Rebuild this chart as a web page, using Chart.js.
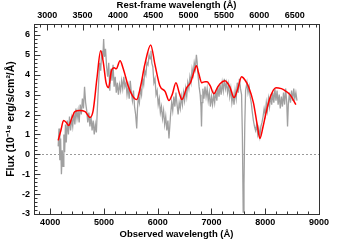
<!DOCTYPE html>
<html><head><meta charset="utf-8">
<script src="https://cdn.jsdelivr.net/npm/chart.js@4.4.1/dist/chart.umd.min.js"></script>
<style>html,body{margin:0;padding:0;background:#fff;}#c{display:block;}</style>
</head><body>
<canvas id="c" width="355" height="240"></canvas>
<script>
// ---- data ----
const redshift = 0.315;
const obsTicks = [4000, 5000, 6000, 7000, 8000, 9000];
const restTicks = [3000, 3500, 4000, 4500, 5000, 5500, 6000, 6500];
const fluxTicks = [-3, -2, -1, 0, 1, 2, 3, 4, 5, 6];

const spectrumWave = [4150,4165,4180,4195,4210,4225,4240,4255,4270,4285,4300,4320,4340,4360,4380,4400,4420,4440,4460,4480,4500,4520,4540,4560,4580,4600,4620,4640,4660,4680,4700,4720,4740,4760,4780,4800,4820,4840,4860,4880,4900,4920,4940,4960,4980,4995,5010,5030,5050,5070,5090,5110,5130,5150,5170,5190,5210,5230,5250,5270,5290,5310,5330,5350,5370,5390,5410,5430,5450,5470,5490,5510,5530,5550,5570,5590,5610,5625,5640,5660,5680,5700,5720,5740,5760,5780,5800,5820,5840,5860,5875,5890,5910,5930,5950,5970,5990,6010,6030,6050,6070,6090,6110,6130,6150,6170,6190,6210,6225,6240,6260,6280,6300,6320,6340,6360,6380,6400,6420,6440,6460,6480,6500,6520,6540,6560,6580,6600,6620,6640,6660,6680,6700,6720,6735,6750,6770,6790,6805,6815,6825,6840,6860,6880,6900,6920,6940,6960,6980,7000,7020,7040,7060,7080,7100,7120,7140,7160,7180,7200,7220,7240,7260,7280,7300,7320,7340,7360,7380,7400,7420,7440,7460,7480,7500,7520,7540,7560,7575,7590,7605,7620,7635,7660,7680,7700,7720,7740,7760,7780,7800,7820,7840,7860,7880,7900,7920,7940,7960,7980,8000,8020,8040,8060,8080,8100,8120,8140,8160,8180,8200,8220,8240,8260,8280,8300,8320,8340,8360,8380,8400,8415,8430,8450,8470,8490,8510,8530,8550,8570,8590];
const spectrumFlux = [0.4,1.3,-0.3,0.8,-1.0,0.2,-0.6,1.0,0.1,1.5,0.6,1.7,1.0,1.9,1.2,1.8,1.4,2.1,1.5,2.3,1.8,2.2,1.6,2.5,2.0,2.8,2.3,3.4,2.6,2.2,1.6,2.1,1.4,1.9,1.2,1.7,1.0,1.5,1.1,2.4,3.5,4.6,4.2,5.2,4.8,5.8,4.9,5.3,4.4,3.9,4.6,3.2,4.3,3.7,4.5,3.4,3.9,3.1,3.6,3.0,3.5,3.2,3.7,3.3,3.9,3.4,3.6,3.0,3.4,2.8,3.7,3.1,2.7,3.2,2.4,2.0,1.3,2.3,2.9,2.6,3.3,3.0,3.8,3.5,4.2,4.0,4.6,4.5,5.0,4.8,5.2,4.6,4.4,3.6,3.8,3.0,3.2,2.5,2.8,2.1,2.4,1.8,2.2,1.5,1.9,1.2,1.7,0.8,1.4,2.0,2.6,2.2,2.9,2.4,3.1,2.5,2.0,2.6,2.3,2.9,2.5,3.1,2.7,3.3,2.9,3.6,3.3,3.9,3.6,4.3,4.0,4.6,4.3,5.0,4.6,4.0,3.4,3.0,2.4,1.4,2.6,3.3,2.8,3.4,2.9,3.3,2.7,3.1,2.4,2.9,2.5,3.0,2.6,3.2,2.7,3.4,2.9,3.5,3.0,3.6,3.2,3.8,3.3,3.6,3.1,3.5,2.9,3.3,2.6,3.0,2.5,3.2,2.8,3.6,3.1,3.8,3.3,3.0,1.0,-2.9,-1.5,1.5,3.2,3.6,3.1,3.4,2.9,2.6,2.1,1.7,1.4,1.2,1.5,1.0,1.3,0.9,1.4,1.6,1.9,2.3,2.0,2.6,2.2,2.8,2.4,3.0,2.5,3.1,2.6,3.3,2.7,3.2,2.5,3.0,2.3,2.9,2.4,3.1,2.5,3.3,2.6,1.4,2.5,3.1,2.6,3.2,2.7,3.3,2.8,3.1,2.7];

const modelWave = [4150,4200,4250,4300,4345,4400,4460,4550,4650,4740,4800,4870,4940,4990,5040,5085,5140,5190,5230,5300,5360,5450,5530,5610,5680,5760,5870,5950,6040,6140,6210,6270,6340,6400,6450,6540,6610,6670,6720,6760,6820,6880,6920,6975,7045,7110,7160,7250,7340,7420,7490,7560,7620,7690,7780,7850,7900,7960,8000,8090,8200,8300,8340,8460,8570];
const modelFlux = [0.7,1.2,1.7,1.6,1.45,1.8,2.15,2.2,2.15,1.85,2.2,3.8,5.2,4.6,3.6,3.35,4.2,4.35,4.3,4.7,4.3,3.45,2.95,2.75,3.4,4.5,5.5,4.5,3.45,3.15,2.7,3.0,3.6,3.1,2.75,3.35,3.6,4.1,4.45,4.1,3.6,3.65,3.65,3.45,3.05,3.35,3.55,3.7,3.4,2.85,3.3,3.9,3.75,3.4,2.6,1.5,0.8,1.4,1.9,2.85,3.35,3.3,3.25,3.0,2.5];

const obsMin = 3700, obsMax = 9000, fluxMin = -3, fluxMax = 6.55;

// ---- chart ----
const FONT = 'Liberation Sans, Arial, sans-serif';
const AXIS_COLOR = '#333';

const inwardTicks = {
  id: 'inwardTicks',
  beforeDatasetsDraw(chart) {
    const {ctx, chartArea: a, scales: {y}} = chart;
    const py = Math.round(y.getPixelForValue(0)) + 0.5;
    ctx.save();
    ctx.strokeStyle = '#9a9a9a';
    ctx.lineWidth = 1;
    ctx.setLineDash([2, 2]);
    ctx.beginPath(); ctx.moveTo(a.left, py); ctx.lineTo(a.right, py); ctx.stroke();
    ctx.restore();
  },
  afterDraw(chart) {
    const {ctx, chartArea: a, scales: {x, x2, y}} = chart;
    ctx.save();
    ctx.strokeStyle = AXIS_COLOR;
    ctx.lineWidth = 1;
    const L = Math.round(a.left) + 0.5, R = Math.round(a.right) + 0.5;
    const T = Math.round(a.top) + 0.5, B = Math.round(a.bottom) + 0.5;
    ctx.strokeRect(L, T, R - L, B - T);
    ctx.beginPath();
    for (let v = 3800; v <= obsMax; v += 200) {
      const px = Math.round(x.getPixelForValue(v)) + 0.5;
      const len = (v % 1000 === 0) ? 6 : 3;
      ctx.moveTo(px, B); ctx.lineTo(px, B - len);
    }
    for (let v = 2900; v <= x2.max; v += 100) {
      if (v < x2.min) continue;
      const px = Math.round(x2.getPixelForValue(v)) + 0.5;
      const len = (v % 500 === 0) ? 6 : 3;
      ctx.moveTo(px, T); ctx.lineTo(px, T + len);
    }
    for (let k = -15; k <= 32; k++) {
      const v = k / 5;
      if (v < fluxMin || v > fluxMax) continue;
      const py = Math.round(y.getPixelForValue(v)) + 0.5;
      const len = (k % 5 === 0) ? 6 : 3;
      ctx.moveTo(L, py); ctx.lineTo(L + len, py);
    }
    ctx.stroke();
    ctx.restore();
  }
};

const fixedTicks = arr => (scale) => { scale.ticks = arr.map(v => ({value: v})); };
const plain = v => String(v);
const tickFont = {family: FONT, size: 9, weight: 'bold'};
const titleFont = {family: FONT, size: 9.5, weight: 'bold'};

new Chart(document.getElementById('c'), {
  type: 'line',
  data: {
    datasets: [
      {
        label: 'spectrum',
        data: spectrumWave.map((w, i) => ({x: w, y: spectrumFlux[i]})),
        borderColor: '#a0a0a0',
        borderWidth: 1.3,
        pointRadius: 0,
        tension: 0,
        order: 2
      },
      {
        label: 'model',
        data: modelWave.map((w, i) => ({x: w, y: modelFlux[i]})),
        borderColor: '#ff0000',
        borderWidth: 1.5,
        pointRadius: 0,
        cubicInterpolationMode: 'monotone',
        order: 1
      }
    ]
  },
  options: {
    responsive: false,
    animation: false,
    devicePixelRatio: 1,
    layout: {padding: {left: 5, right: 36, top: 0, bottom: 0}},
    plugins: {legend: {display: false}, tooltip: {enabled: false}},
    scales: {
      x: {
        type: 'linear', position: 'bottom', min: obsMin, max: obsMax,
        afterBuildTicks: fixedTicks(obsTicks),
        afterFit: s => { s.height = 26; },
        grid: {display: false, drawTicks: false},
        border: {display: false},
        ticks: {color: '#000', font: tickFont, padding: 3, maxRotation: 0, autoSkip: false, callback: plain},
        title: {display: true, text: 'Observed wavelength (Å)', color: '#000', font: titleFont, padding: {top: 0, bottom: 0}}
      },
      x2: {
        type: 'linear', position: 'top', min: obsMin / (1 + redshift), max: obsMax / (1 + redshift),
        afterBuildTicks: fixedTicks(restTicks),
        afterFit: s => { s.height = 24; },
        grid: {display: false, drawTicks: false},
        border: {display: false},
        ticks: {color: '#000', font: tickFont, padding: 3, maxRotation: 0, autoSkip: false, callback: plain},
        title: {display: true, text: 'Rest-frame wavelength (Å)', color: '#000', font: titleFont, padding: {top: 0, bottom: 0}}
      },
      y: {
        type: 'linear', position: 'left', min: fluxMin, max: fluxMax,
        afterBuildTicks: fixedTicks(fluxTicks),
        afterFit: s => { s.width = 29; },
        grid: {display: false, drawTicks: false},
        border: {display: false},
        ticks: {color: '#000', font: tickFont, padding: 4, autoSkip: false, callback: plain},
        title: {display: true, text: 'Flux (10⁻¹⁸ erg/s/cm²/Å)', color: '#000', font: {family: FONT, size: 10.5, weight: 'bold'}, padding: {top: 0, bottom: 0}}
      }
    }
  },
  plugins: [inwardTicks]
});
</script>
</body></html>
